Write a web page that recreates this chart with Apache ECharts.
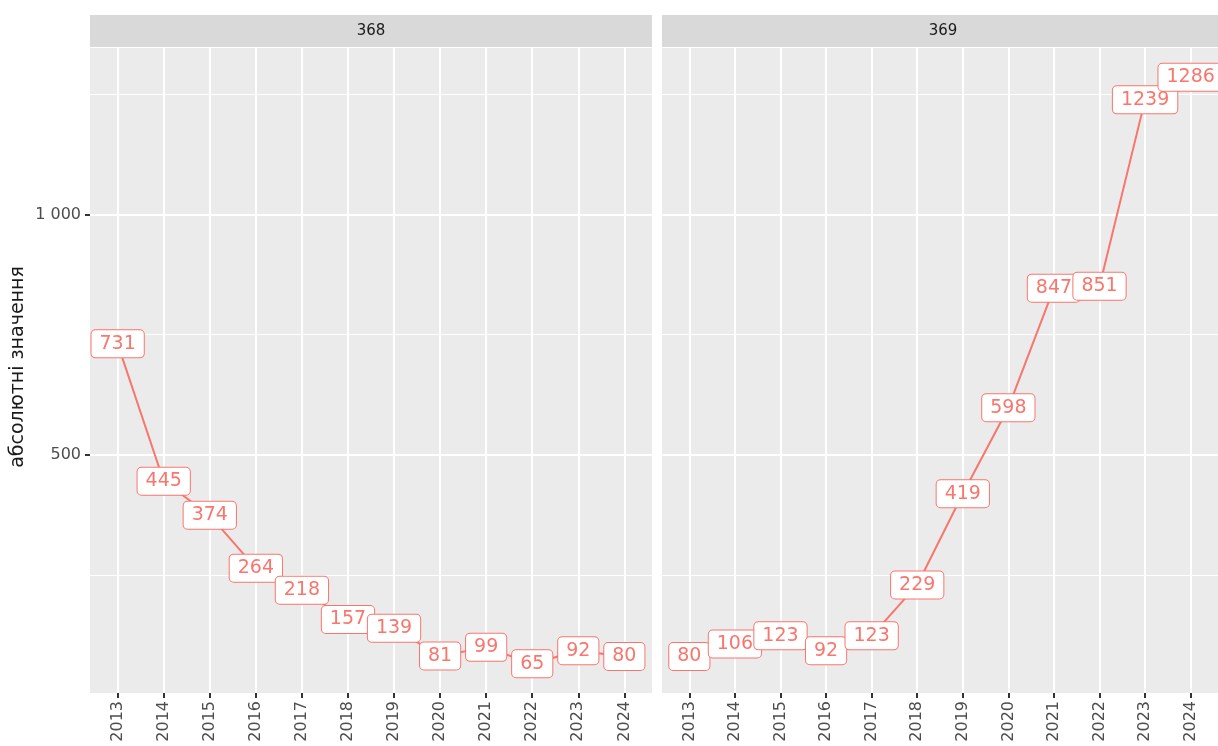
<!DOCTYPE html>
<html>
<head>
<meta charset="utf-8">
<script src="https://cdn.jsdelivr.net/npm/echarts@6/dist/echarts.min.js"></script>
<style>
  html, body { margin: 0; padding: 0; background: #fff; }
  #chart { width: 1218px; height: 746px; }
</style>
</head>
<body>
<div id="chart"></div>
<script>
var years = [2013, 2014, 2015, 2016, 2017, 2018, 2019, 2020, 2021, 2022, 2023, 2024];
var panels = ['368', '369'];
var values368 = [731, 445, 374, 264, 218, 157, 139, 81, 99, 65, 92, 80];
var values369 = [80, 106, 123, 92, 123, 229, 419, 598, 847, 851, 1239, 1286];
var majorTicks = [500, 1000];
var minorTicks = [250, 750, 1250];
var yTitle = 'абсолютні значення';

var chart = echarts.init(document.getElementById('chart'));

var red = '#F8766D';
var font = 'DejaVu Sans';
var yMin = 4, yMax = 1347;
var panelLeft = [90, 662];
var panelWidth = 562;
var panelTop = 48;
var panelHeight = 645;

function pairs(vals) {
    return years.map(function (y, i) { return [y, vals[i]]; });
}

var grids = [], xAxes = [], yAxes = [], series = [], graphics = [];
var allValues = [values368, values369];

panelLeft.forEach(function (left, i) {
    grids.push({
        left: left, top: panelTop, width: panelWidth, height: panelHeight,
        show: true, backgroundColor: '#EBEBEB', borderWidth: 0
    });
    xAxes.push({
        type: 'value', gridIndex: i, min: 2012.4, max: 2024.6,
        axisLine: { show: false },
        axisTick: { show: true, customValues: years, length: 5, lineStyle: { color: '#333', width: 2 } },
        axisLabel: {
            customValues: years, rotate: 90, margin: 8,
            color: '#4D4D4D', fontSize: 16, fontFamily: font,
            formatter: function (v) { return String(v); }
        },
        splitLine: { show: true, lineStyle: { color: '#fff', width: 2 } }
    });
    // major y lines
    yAxes.push({
        type: 'value', gridIndex: i, min: yMin, max: yMax,
        axisLine: { show: false },
        axisTick: { show: i === 0, customValues: majorTicks, length: 5, lineStyle: { color: '#333', width: 2 } },
        axisLabel: {
            show: i === 0, customValues: majorTicks, margin: 9,
            color: '#4D4D4D', fontSize: 16, fontFamily: font,
            formatter: function (v) { return v >= 1000 ? (Math.floor(v / 1000) + ' ' + String(v % 1000).padStart(3, '0')) : String(v); }
        },
        splitLine: { show: true, lineStyle: { color: '#fff', width: 2 } }
    });
    // minor y lines
    yAxes.push({
        type: 'value', gridIndex: i, min: yMin, max: yMax, position: 'left',
        axisLine: { show: false },
        axisTick: { show: false, customValues: minorTicks },
        axisLabel: { show: false, customValues: minorTicks },
        splitLine: { show: true, lineStyle: { color: '#fff', width: 1 } }
    });
    series.push({
        type: 'line', xAxisIndex: i, yAxisIndex: i * 2,
        data: pairs(allValues[i]),
        symbol: 'circle', symbolSize: 1, showSymbol: true,
        lineStyle: { color: red, width: 2 },
        itemStyle: { color: red },
        label: {
            show: true, position: 'inside',
            formatter: function (p) { return String(p.value[1]); },
            color: red, fontSize: 19, fontFamily: font,
            backgroundColor: '#fff', borderColor: red, borderWidth: 1, borderRadius: 4,
            padding: [4, 8]
        },
        emphasis: { disabled: true },
        animation: false
    });
    graphics.push({
        type: 'rect', shape: { x: left, y: 15, width: panelWidth, height: 32 },
        style: { fill: '#D9D9D9' }
    });
    graphics.push({
        type: 'text', x: left + panelWidth / 2, y: 31,
        style: { text: panels[i], fill: '#1A1A1A', font: '15px "DejaVu Sans"', align: 'center', verticalAlign: 'middle' }
    });
});

graphics.push({
    type: 'text', x: 18, y: 367, rotation: Math.PI / 2,
    style: { text: yTitle, fill: '#1A1A1A', font: '19px "DejaVu Sans"', align: 'center', verticalAlign: 'middle' }
});

chart.setOption({
    animation: false,
    grid: grids,
    xAxis: xAxes,
    yAxis: yAxes,
    series: series,
    graphic: graphics
});
</script>
</body>
</html>
